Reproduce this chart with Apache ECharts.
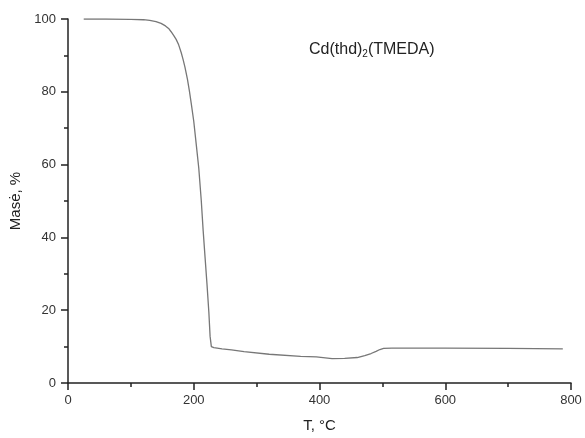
<!DOCTYPE html>
<html>
<head>
<meta charset="utf-8">
<script src="https://cdn.jsdelivr.net/npm/echarts@6/dist/echarts.min.js"></script>
<style>html,body{margin:0;padding:0;background:#fff}#c{width:585px;height:438px}</style>
</head>
<body>
<div id="c"></div>
<script>
const temperature = [25, 60, 100, 120, 130, 140, 148, 155, 160, 164, 168, 172, 176, 180, 183, 186, 190, 193, 196, 200, 204, 208, 212, 215, 218, 221, 224, 226, 228, 232, 245, 260, 280, 320, 370, 395, 397, 420, 440, 460, 472, 482, 490, 496, 502, 515, 528, 600, 700, 787];
const mass = [100, 100, 99.9, 99.8, 99.6, 99.3, 98.8, 98.1, 97.4, 96.5, 95.5, 94.4, 92.9, 90.8, 88.9, 86.8, 83.4, 80.3, 76.8, 71.9, 65.5, 59, 50, 41.8, 34.5, 27.3, 19.5, 12.8, 10, 9.7, 9.4, 9.1, 8.6, 7.9, 7.3, 7.2, 6.9, 6.7, 6.75, 7.0, 7.5, 8.1, 8.7, 9.2, 9.5, 9.6, 9.6, 9.6, 9.5, 9.4];
const xTicks = [0, 200, 400, 600, 800];
const yTicks = [0, 20, 40, 60, 80, 100];
const titleMain = 'Cd(thd)';
const titleSub = '2';
const titleTail = '(TMEDA)';
const xName = 'T, °C';
const yName = 'Masė, %';

const chart = echarts.init(document.getElementById('c'), null, {renderer: 'canvas'});
const font = 'Liberation Sans, Arial, sans-serif';
const axisCommon = {
  axisLine: {show: true, lineStyle: {color: '#222', width: 1.5}},
  axisTick: {show: true, inside: false, length: 7, lineStyle: {color: '#222', width: 1.5}},
  minorTick: {show: true, splitNumber: 2, length: 4, lineStyle: {color: '#222', width: 1.5}},
  splitLine: {show: false},
  axisLabel: {color: '#333', fontSize: 13, fontFamily: font}
};
chart.setOption({
  animation: false,
  backgroundColor: '#fff',
  grid: {left: 68, right: 14, top: 19, bottom: 51, containLabel: false},
  title: {
    text: '{a|' + titleMain + '}{s|' + titleSub + '}{a|' + titleTail + '}',
    left: 304, top: 35,
    textStyle: {
      fontWeight: 'normal',
      rich: {
        a: {fontSize: 16, color: '#222', fontFamily: font, fontWeight: 'normal'},
        s: {fontSize: 10, color: '#222', fontFamily: font, fontWeight: 'normal', verticalAlign: 'bottom', padding: [9, 0, 0, 0]}
      }
    }
  },
  xAxis: Object.assign({}, axisCommon, {
    type: 'value', min: xTicks[0], max: xTicks[xTicks.length - 1], interval: 200,
    name: xName, nameLocation: 'middle', nameGap: 35,
    nameTextStyle: {fontSize: 15, color: '#222', fontFamily: font},
    axisLabel: Object.assign({}, axisCommon.axisLabel, {margin: 11})
  }),
  yAxis: Object.assign({}, axisCommon, {
    type: 'value', min: yTicks[0], max: yTicks[yTicks.length - 1], interval: 20,
    name: yName, nameLocation: 'middle', nameGap: 43,
    nameTextStyle: {fontSize: 15, color: '#222', fontFamily: font},
    axisLabel: Object.assign({}, axisCommon.axisLabel, {margin: 12})
  }),
  series: [{
    type: 'line',
    data: temperature.map((t, i) => [t, mass[i]]),
    showSymbol: false,
    smooth: false,
    lineStyle: {color: '#777', width: 1.3}
  }]
});
</script>
</body>
</html>
